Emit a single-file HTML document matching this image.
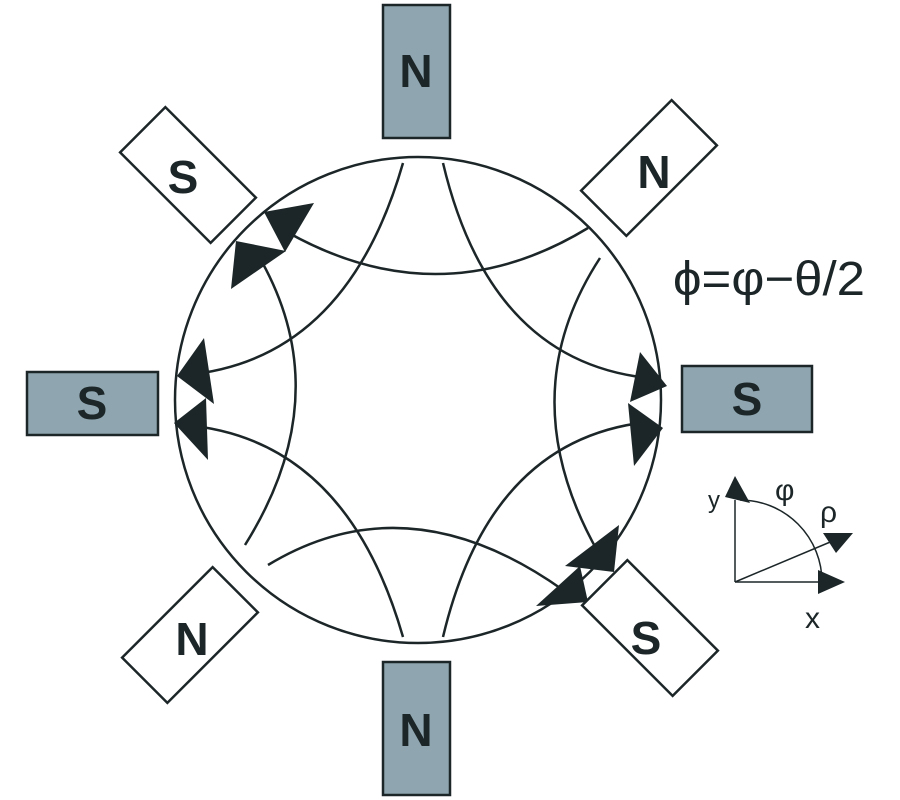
<!DOCTYPE html>
<html><head><meta charset="utf-8"><style>
html,body{margin:0;padding:0;background:#fff;width:900px;height:800px;overflow:hidden}
svg text{font-family:"Liberation Sans",sans-serif}
</style></head><body>
<svg width="900" height="800" viewBox="0 0 900 800" xmlns="http://www.w3.org/2000/svg">
<g stroke="#1c2628" stroke-width="2.5" fill="none">
<circle cx="418" cy="400" r="243"/>
<path d="M403,163 Q346,361 185,375"/>
<path d="M443,163 Q490,361 648,378"/>
<path d="M403,637 Q346,439 185,425"/>
<path d="M443,637 Q490,439 648,422"/>
<path d="M287,232 Q440,318 588,228"/>
<path d="M268,565 Q408,480 563,590"/>
<path d="M262,262 Q337,398 245,545"/>
<path d="M600,258 Q510,396 598,552"/>
</g>
<g fill="#1c2628">
<polygon points="314,203 264,212 285,252"/>
<polygon points="231,289 236,241 286,251"/>
<polygon points="204,338 177,376 214,404"/>
<polygon points="174,423 206,398 208,460"/>
<polygon points="667,386 640,352 630,402"/>
<polygon points="663,428 628,403 634,466"/>
<polygon points="619,525 565,566 614,572"/>
<polygon points="536,606 580,566 588,602"/>
</g>
<g stroke="#1c2628" stroke-width="2.5" fill="#8fa6b0">
<rect x="383" y="5" width="67" height="133"/>
<rect x="383" y="662" width="67" height="133"/>
<rect x="27" y="372" width="131" height="63"/>
<rect x="682" y="366" width="130" height="66"/>
</g>
<g stroke="#1c2628" stroke-width="2.5" fill="#fff">
<rect x="-64" y="-32" width="128" height="64" transform="translate(188,175) rotate(45)"/>
<rect x="-64" y="-32" width="128" height="64" transform="translate(649,168) rotate(-45)"/>
<rect x="-64" y="-32" width="128" height="64" transform="translate(190,635) rotate(-45)"/>
<rect x="-64" y="-32" width="128" height="64" transform="translate(650,628) rotate(45)"/>
</g>
<g fill="#1c2628" font-size="46" font-weight="bold" text-anchor="middle">
<text x="416" y="87">N</text>
<text x="416" y="746">N</text>
<text x="92" y="419">S</text>
<text x="747" y="415">S</text>
<text x="183" y="193">S</text>
<text x="654" y="188">N</text>
<text x="192" y="655">N</text>
<text x="646" y="654">S</text>
</g>
<text x="673" y="295" font-size="48" fill="#1c2628" textLength="192" lengthAdjust="spacingAndGlyphs">ϕ=φ−θ/2</text>
<g stroke="#1c2628" stroke-width="1.5" fill="none">
<line x1="735" y1="582" x2="735" y2="500"/>
<line x1="735" y1="582" x2="830" y2="582"/>
<line x1="735" y1="582" x2="835" y2="540"/>
<path d="M740,500 A82,82 0 0 1 822,582"/>
</g>
<g fill="#1c2628">
<polygon points="735,476 725,497 750,503"/>
<polygon points="845,582 818,570 818,594"/>
<polygon points="853,533 823,533 836,553"/>
</g>
<g fill="#1c2628" font-size="30">
<text x="708" y="508" font-size="24">y</text>
<text x="775" y="500">φ</text>
<text x="820" y="522">ρ</text>
<text x="805" y="628">x</text>
</g>
</svg>
</body></html>
